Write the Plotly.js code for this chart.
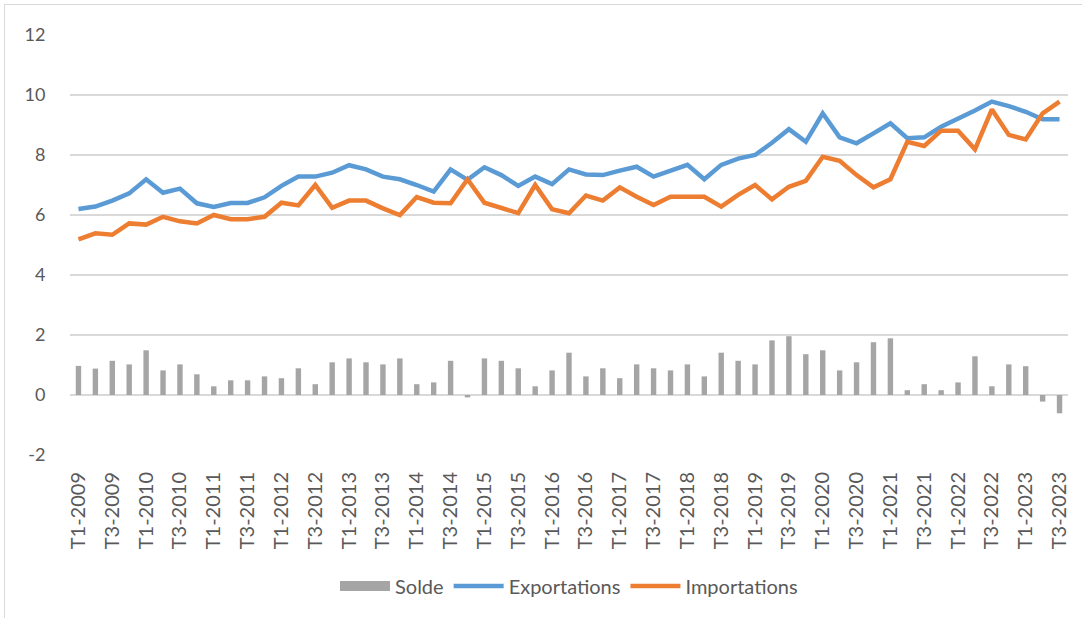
<!DOCTYPE html>
<html>
<head>
<meta charset="utf-8">
<script src="https://cdn.plot.ly/plotly-3.0.1.min.js"></script>
<style>
  html, body { margin: 0; padding: 0; background: #ffffff; }
  #frame { position: absolute; left: 4px; top: 4px; width: 1090px; height: 620px;
           border-left: 1px solid #d9d9d9; border-top: 1px solid #d9d9d9; pointer-events: none; }
  #chart { width: 1082px; height: 618px; }
</style>
</head>
<body>
<div id="chart"></div>
<div id="frame"></div>
<script>
const quarters = [
  "T1-2009","T2-2009","T3-2009","T4-2009",
  "T1-2010","T2-2010","T3-2010","T4-2010",
  "T1-2011","T2-2011","T3-2011","T4-2011",
  "T1-2012","T2-2012","T3-2012","T4-2012",
  "T1-2013","T2-2013","T3-2013","T4-2013",
  "T1-2014","T2-2014","T3-2014","T4-2014",
  "T1-2015","T2-2015","T3-2015","T4-2015",
  "T1-2016","T2-2016","T3-2016","T4-2016",
  "T1-2017","T2-2017","T3-2017","T4-2017",
  "T1-2018","T2-2018","T3-2018","T4-2018",
  "T1-2019","T2-2019","T3-2019","T4-2019",
  "T1-2020","T2-2020","T3-2020","T4-2020",
  "T1-2021","T2-2021","T3-2021","T4-2021",
  "T1-2022","T2-2022","T3-2022","T4-2022",
  "T1-2023","T2-2023","T3-2023"
];

const tickLabels = [
  "T1-2009","T3-2009","T1-2010","T3-2010","T1-2011","T3-2011","T1-2012","T3-2012",
  "T1-2013","T3-2013","T1-2014","T3-2014","T1-2015","T3-2015","T1-2016","T3-2016",
  "T1-2017","T3-2017","T1-2018","T3-2018","T1-2019","T3-2019","T1-2020","T3-2020",
  "T1-2021","T3-2021","T1-2022","T3-2022","T1-2023","T3-2023"
];

const exportations = [
  6.20, 6.28, 6.48, 6.72, 7.19, 6.74, 6.88, 6.39, 6.27, 6.40,
  6.40, 6.59, 6.97, 7.28, 7.28, 7.41, 7.66, 7.52, 7.28, 7.19,
  7.00, 6.78, 7.52, 7.17, 7.59, 7.33, 6.97, 7.28, 7.03, 7.52,
  7.35, 7.33, 7.48, 7.61, 7.28, 7.48, 7.67, 7.19, 7.67, 7.88,
  8.00, 8.41, 8.86, 8.44, 9.39, 8.59, 8.39, 8.72, 9.06, 8.56,
  8.59, 8.94, 9.19, 9.48, 9.78, 9.63, 9.44, 9.19, 9.19
];

const importations = [
  5.19, 5.39, 5.34, 5.72, 5.68, 5.94, 5.79, 5.72, 6.00, 5.86,
  5.86, 5.94, 6.41, 6.32, 7.00, 6.24, 6.48, 6.48, 6.22, 6.00,
  6.60, 6.41, 6.39, 7.19, 6.41, 6.22, 6.06, 7.00, 6.19, 6.06,
  6.65, 6.48, 6.92, 6.61, 6.33, 6.61, 6.61, 6.61, 6.28, 6.67,
  7.00, 6.52, 6.94, 7.14, 7.94, 7.81, 7.33, 6.92, 7.19, 8.44,
  8.30, 8.81, 8.81, 8.19, 9.52, 8.67, 8.52, 9.39, 9.78
];

const solde = [
  0.97, 0.88, 1.14, 1.02, 1.49, 0.82, 1.02, 0.69, 0.29, 0.49,
  0.49, 0.62, 0.56, 0.89, 0.36, 1.09, 1.22, 1.09, 1.02, 1.22,
  0.36, 0.42, 1.14, -0.08, 1.22, 1.14, 0.89, 0.29, 0.82, 1.41,
  0.62, 0.89, 0.56, 1.02, 0.89, 0.82, 1.02, 0.62, 1.41, 1.14,
  1.02, 1.82, 1.96, 1.36, 1.49, 0.82, 1.09, 1.76, 1.89, 0.16,
  0.36, 0.16, 0.42, 1.29, 0.29, 1.02, 0.96, -0.22, -0.61
];

const yTicks = [-2, 0, 2, 4, 6, 8, 10, 12];

const FONT = "Lato, 'Open Sans', sans-serif";
const TXT = "#595959";
const GREY = "#A5A5A5";

const traces = [
  {
    type: "bar", name: "Solde", x: quarters, y: solde,
    marker: { color: GREY }, width: 0.32, showlegend: false, legendgroup: "solde"
  },
  {
    // legend entry only: wide grey block like the reference swatch
    type: "scatter", mode: "lines", name: "Solde", x: [null], y: [null],
    line: { color: GREY, width: 15 }, legendgroup: "solde", hoverinfo: "skip"
  },
  {
    type: "scatter", mode: "lines", name: "Exportations", x: quarters, y: exportations,
    line: { color: "#5B9BD5", width: 4.5 }
  },
  {
    type: "scatter", mode: "lines", name: "Importations", x: quarters, y: importations,
    line: { color: "#ED7D31", width: 4.5 }
  }
];

const layout = {
  width: 1082, height: 618,
  margin: { l: 70, r: 14, t: 35, b: 163 },
  paper_bgcolor: "#ffffff", plot_bgcolor: "#ffffff",
  font: { family: FONT, color: TXT, size: 17 },
  showlegend: true,
  legend: {
    orientation: "h", x: 0.5, xanchor: "center", y: -0.312, yanchor: "middle",
    font: { family: FONT, color: TXT, size: 20 },
    traceorder: "normal", itemwidth: 50
  },
  xaxis: {
    type: "category",
    range: [-0.5, quarters.length - 0.5],
    tickmode: "array", tickvals: tickLabels, ticktext: tickLabels,
    tickangle: -90,
    tickfont: { family: FONT, color: TXT, size: 20 },
    showgrid: false, zeroline: false, showline: false,
    ticks: "outside", ticklen: 8, tickcolor: "rgba(0,0,0,0)"
  },
  yaxis: {
    range: [-2, 12],
    tickmode: "array", tickvals: yTicks, ticktext: yTicks.map(String),
    tickfont: { family: FONT, color: TXT, size: 18 },
    showgrid: true, gridcolor: "#D9D9D9", gridwidth: 1.5,
    zeroline: true, zerolinecolor: "#D9D9D9", zerolinewidth: 1.5,
    showline: false,
    ticks: "outside", ticklen: 20, tickcolor: "rgba(0,0,0,0)"
  },
  bargap: 0.6
};

Plotly.newPlot("chart", traces, layout, { displayModeBar: false, staticPlot: true });
</script>
</body>
</html>
